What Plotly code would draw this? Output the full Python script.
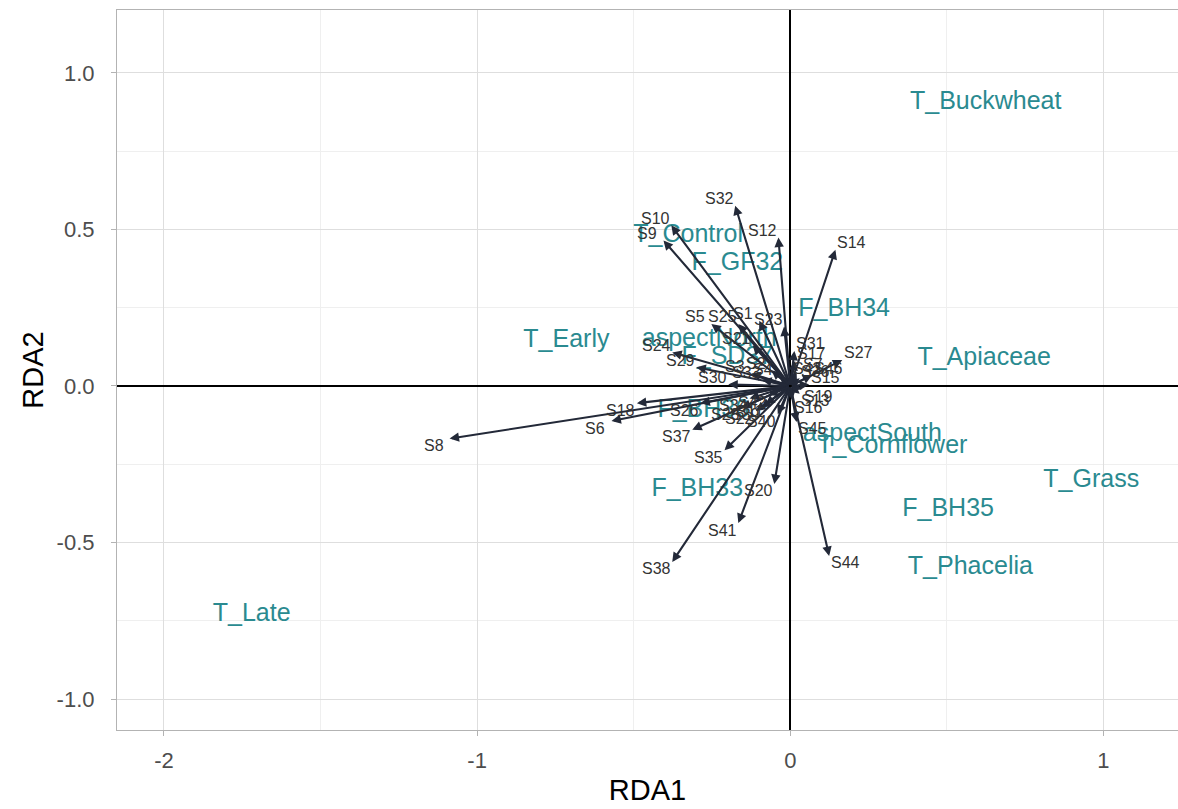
import numpy as np
import plotly.graph_objects as go

# ---- sample (species/site) arrows: RDA1, RDA2 tips ----
samples = ["S1", "S2", "S3", "S4", "S5", "S6", "S7", "S8", "S9", "S10",
           "S11", "S12", "S13", "S14", "S15", "S16", "S17", "S18", "S19", "S20",
           "S21", "S22", "S23", "S24", "S25", "S26", "S27", "S28", "S29", "S30",
           "S31", "S32", "S33", "S34", "S35", "S36", "S37", "S38", "S39", "S40",
           "S41", "S42", "S43", "S44", "S45", "S46"]
rda1 = [-0.099, -0.060, -0.125, -0.035, -0.252, -0.571, 0.020, -1.088, -0.405, -0.380,
        -0.080, -0.038, 0.030, 0.144, 0.060, 0.006, 0.015, -0.490, 0.038, -0.051,
        -0.120, -0.110, -0.020, -0.377, -0.166, -0.287, 0.166, -0.156, -0.300, -0.198,
        0.013, -0.176, -0.090, -0.130, -0.210, 0.030, -0.313, -0.377, -0.093, -0.040,
        -0.166, -0.070, 0.003, 0.124, 0.020, 0.070]
rda2 = [0.208, 0.050, 0.040, 0.030, 0.198, -0.112, 0.045, -0.168, 0.465, 0.513,
        -0.060, 0.474, -0.025, 0.435, 0.005, -0.045, 0.080, -0.055, -0.010, -0.313,
        0.130, -0.080, 0.190, 0.107, 0.198, -0.055, 0.083, -0.070, 0.060, 0.005,
        0.112, 0.576, 0.020, -0.040, -0.205, 0.025, -0.140, -0.562, -0.070, -0.090,
        -0.438, -0.030, 0.035, -0.543, -0.115, 0.035]

# ---- explanatory variable centroids / labels ----
terms = ["T_Buckwheat", "T_Control", "F_GF32", "F_BH34", "T_Early", "aspectNorth",
         "F_SD37", "T_Apiaceae", "F_BH36", "aspectSouth", "T_Cornflower", "T_Grass",
         "F_BH35", "F_BH33", "T_Phacelia", "T_Late"]
term_x = [0.624, -0.326, -0.169, 0.172, -0.715, -0.259,
          -0.201, 0.619, -0.278, 0.262, 0.326, 0.961,
          0.504, -0.297, 0.575, -1.720]
term_y = [0.904, 0.479, 0.390, 0.243, 0.144, 0.147,
          0.089, 0.086, -0.080, -0.157, -0.195, -0.304,
          -0.396, -0.332, -0.581, -0.732]

ARROW = "#232938"
TEAL = "#2a8a90"
FONT = "Liberation Sans, Arial, sans-serif"

fig = go.Figure()

fig.add_trace(go.Scatter(x=term_x, y=term_y, mode="text", text=terms,
                         textfont=dict(size=25, color=TEAL, family=FONT),
                         hoverinfo="text", showlegend=False))

annotations = []
for name, x, y in zip(samples, rda1, rda2):
    annotations.append(dict(x=x, y=y, ax=0, ay=0, xref="x", yref="y",
                            axref="x", ayref="y", showarrow=True, text="",
                            arrowhead=2, arrowsize=0.9, arrowwidth=2.1,
                            arrowcolor=ARROW))
for name, x, y in zip(samples, rda1, rda2):
    annotations.append(dict(x=x, y=y, xref="x", yref="y", text=name,
                            showarrow=False,
                            xshift=16 * np.sign(x), yshift=7 * np.sign(y),
                            font=dict(size=16, color="#333333", family=FONT)))

fig.update_layout(
    width=1178, height=809,
    margin=dict(l=117, r=0, t=10, b=79),
    plot_bgcolor="white", paper_bgcolor="white",
    annotations=annotations,
    font=dict(family=FONT),
)

fig.update_xaxes(
    range=[-2.15, 1.238], tickvals=[-2, -1, 0, 1], ticktext=["-2", "-1", "0", "1"],
    showgrid=True, gridcolor="#dedede", gridwidth=1,
    minor=dict(dtick=0.5, showgrid=True, gridcolor="#efefef", gridwidth=1),
    zeroline=True, zerolinecolor="black", zerolinewidth=2,
    showline=True, linecolor="#b3b3b3", linewidth=1.2, mirror=True,
    ticks="outside", ticklen=5, tickcolor="#b3b3b3", ticklabelstandoff=5,
    tickfont=dict(size=22, color="#4d4d4d", family=FONT),
    title=dict(text="RDA1", font=dict(size=29, color="black", family=FONT), standoff=8),
)
fig.update_yaxes(
    range=[-1.099, 1.201], tickvals=[-1, -0.5, 0, 0.5, 1],
    ticktext=["-1.0", "-0.5", "0.0", "0.5", "1.0"],
    showgrid=True, gridcolor="#dedede", gridwidth=1,
    minor=dict(dtick=0.25, showgrid=True, gridcolor="#efefef", gridwidth=1),
    zeroline=True, zerolinecolor="black", zerolinewidth=2,
    showline=True, linecolor="#b3b3b3", linewidth=1.2, mirror=True,
    ticks="outside", ticklen=5, tickcolor="#b3b3b3", ticklabelstandoff=12,
    tickfont=dict(size=22, color="#4d4d4d", family=FONT),
    title=dict(text="RDA2", font=dict(size=29, color="black", family=FONT), standoff=4),
)

fig.write_html("out.html")
